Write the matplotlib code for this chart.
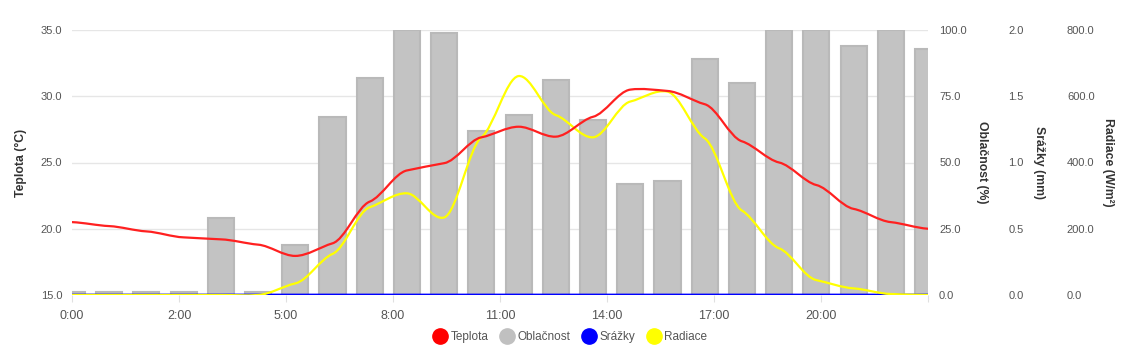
import numpy as np
import matplotlib
matplotlib.use("Agg")
import matplotlib.pyplot as plt
from matplotlib.path import Path
from matplotlib.patches import PathPatch
from matplotlib.lines import Line2D

plt.rcParams['font.family'] = ['Liberation Sans', 'DejaVu Sans']

# hourly values for one day
hours = list(range(24))
teplota = [20.5, 20.2, 19.8, 19.35, 19.2, 18.8, 17.95, 18.9, 22.05, 24.4, 24.95, 26.9,
           27.7, 26.95, 28.45, 30.5, 30.4, 29.4, 26.6, 25.0, 23.3, 21.5, 20.5, 20.0]
oblacnost = [1, 1, 1, 1, 29, 1, 19, 67, 82, 100, 99, 62,
             68, 81, 66, 42, 43, 89, 80, 100, 100, 94, 100, 93]
srazky = [0.0] * 24
radiace = [0, 0, 0, 0, 0, 0, 35, 124, 265, 307, 234, 476,
           661, 543, 476, 584, 614, 473, 255, 141, 45, 20, 3, 0]
xtick_labels = ['0:00', '2:00', '5:00', '8:00', '11:00', '14:00', '17:00', '20:00', '']

TICK_COLOR = '#555555'
TITLE_COLOR = '#333333'


def smooth_line(ax, xs, ys, color, lw=1.6, k=0.4):
    # cubic hermite segments with damped tangents -> curve passes through every point
    xs = np.asarray(xs, float)
    ys = np.asarray(ys, float)
    n = len(xs)
    m = np.zeros(n)
    m[0] = (ys[1] - ys[0]) / (xs[1] - xs[0])
    m[-1] = (ys[-1] - ys[-2]) / (xs[-1] - xs[-2])
    m[1:-1] = (ys[2:] - ys[:-2]) / (xs[2:] - xs[:-2])
    m *= k
    verts = [(xs[0], ys[0])]
    codes = [Path.MOVETO]
    for i in range(n - 1):
        dx = (xs[i + 1] - xs[i]) / 3
        verts += [(xs[i] + dx, ys[i] + m[i] * dx),
                  (xs[i + 1] - dx, ys[i + 1] - m[i + 1] * dx),
                  (xs[i + 1], ys[i + 1])]
        codes += [Path.CURVE4] * 3
    patch = PathPatch(Path(verts, codes), facecolor='none', edgecolor=color,
                      lw=lw, capstyle='round', joinstyle='round')
    ax.add_patch(patch)


fig = plt.figure(figsize=(11.4, 3.5), dpi=100)
ax = fig.add_axes([72 / 1140, 1 - 295 / 350, 856 / 1140, 265 / 350])
ax_obl = ax.twinx()
ax_sra = ax.twinx()
ax_rad = ax.twinx()

ax_obl.set_zorder(1)
ax_sra.set_zorder(2)
ax_rad.set_zorder(3)
ax.set_zorder(4)
for a in (ax, ax_sra, ax_rad):
    a.patch.set_visible(False)

for a in (ax, ax_obl, ax_sra, ax_rad):
    a.set_xlim(0, 23)
    for s in a.spines.values():
        s.set_visible(False)

ax.set_ylim(15, 35)
ax_obl.set_ylim(0, 100)
ax_sra.set_ylim(0, 2)
ax_rad.set_ylim(0, 800)

ax.set_yticks(np.linspace(15, 35, 5))
ax_obl.set_yticks(np.linspace(0, 100, 5))
ax_sra.set_yticks(np.linspace(0, 2, 5))
ax_rad.set_yticks(np.linspace(0, 800, 5))
for a in (ax, ax_obl, ax_sra, ax_rad):
    a.yaxis.set_major_formatter(matplotlib.ticker.FormatStrFormatter('%.1f'))
    a.tick_params(axis='y', length=0, labelsize=8, labelcolor=TICK_COLOR)

ax.tick_params(axis='y', pad=7)
ax_obl.tick_params(axis='y', pad=8)
ax_sra.spines['right'].set_position(('outward', 50))
ax_sra.tick_params(axis='y', pad=8)
ax_rad.spines['right'].set_position(('outward', 92))
ax_rad.tick_params(axis='y', pad=8)

# grid behind the bars
ax_obl.yaxis.grid(True, color='#e6e6e6', lw=1)
ax_obl.set_axisbelow(True)

ax.set_xticks(np.linspace(0, 23, 9))
ax.set_xticklabels(xtick_labels)
ax.tick_params(axis='x', length=5, color='#e0e0e0', labelsize=9,
               labelcolor=TICK_COLOR, pad=6)
for a in (ax_obl, ax_sra, ax_rad):
    a.tick_params(axis='x', bottom=False, labelbottom=False)

ax_obl.bar(hours, oblacnost, width=0.7, color='#c3c3c3', edgecolor='#b9b9b9', lw=1.5)

# axis titles
title_kw = dict(fontsize=8.8, fontweight='bold', color=TITLE_COLOR)
ax.set_ylabel('Teplota (°C)', **title_kw)
ax.yaxis.set_label_coords(-0.0526, 0.5)
ax_obl.set_ylabel('Oblačnost (%)', rotation=270, va='center', **title_kw)
ax_obl.yaxis.set_label_coords(1.063, 0.5)
ax_sra.set_ylabel('Srážky (mm)', rotation=270, va='center', **title_kw)
ax_sra.yaxis.set_label_coords(1.13, 0.5)
ax_rad.set_ylabel('Radiace (W/m²)', rotation=270, va='center', **title_kw)
ax_rad.yaxis.set_label_coords(1.21, 0.5)

smooth_line(ax_sra, hours, srazky, '#0000ff', lw=2)
smooth_line(ax_rad, hours, radiace, '#ffff00', lw=1.6)
smooth_line(ax, hours, teplota, '#ff2020', lw=1.6)

handles = [Line2D([], [], ls='none', marker='o', ms=11, mfc=c, mec=c, label=l)
           for c, l in [('#ff0000', 'Teplota'), ('#c0c0c0', 'Oblačnost'),
                        ('#0000ff', 'Srážky'), ('#ffff00', 'Radiace')]]
fig.legend(handles=handles, loc='center', bbox_to_anchor=(0.5, 0.037), ncol=4,
           frameon=False, fontsize=8.5, handlelength=1.3, handletextpad=0.25,
           columnspacing=0.9, labelcolor='#555555')

fig.savefig('out.png', dpi=100)
